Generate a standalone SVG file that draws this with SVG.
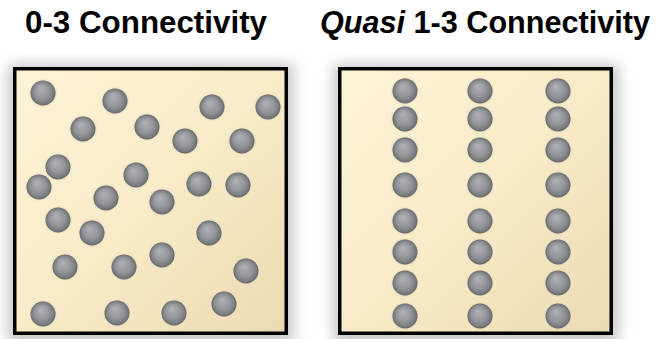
<svg xmlns="http://www.w3.org/2000/svg" xmlns:xlink="http://www.w3.org/1999/xlink" width="657" height="339" viewBox="0 0 657 339">
<style>
.title{font-family:"Liberation Sans",Arial,sans-serif;font-weight:bold;font-size:31px;fill:#000;}
.box{fill:url(#boxfill);stroke:#000;stroke-width:3.5;}
</style>
<defs>
<linearGradient id="boxfill" x1="0" y1="0" x2="1" y2="1">
<stop offset="0" stop-color="#FDF3D6"/>
<stop offset="0.5" stop-color="#F8EBC8"/>
<stop offset="1" stop-color="#EBDAB1"/>
</linearGradient>
<radialGradient id="ball" cx="0.5" cy="0.5" r="0.5" fx="0.4" fy="0.32">
<stop offset="0" stop-color="#B2B3B8"/>
<stop offset="0.6" stop-color="#949599"/>
<stop offset="0.88" stop-color="#7A7B7E"/>
<stop offset="1" stop-color="#646466"/>
</radialGradient>
<radialGradient id="halo" cx="0.5" cy="0.5" r="0.5">
<stop offset="0.72" stop-color="#CFC39F" stop-opacity="0.55"/>
<stop offset="1" stop-color="#FFF8E0" stop-opacity="0"/>
</radialGradient>
<filter id="shadow" x="-20%" y="-20%" width="140%" height="140%">
<feGaussianBlur stdDeviation="7"/>
</filter>
<g id="sph">
<circle r="16" fill="url(#halo)"/>
<circle r="12.5" fill="url(#ball)"/>
</g>
</defs>
<rect width="657" height="339" fill="#fff"/>
<text class="title" x="146" y="33" text-anchor="middle" textLength="242" lengthAdjust="spacingAndGlyphs">0-3 Connectivity</text>
<text class="title" x="485" y="33" text-anchor="middle" textLength="330" lengthAdjust="spacingAndGlyphs"><tspan font-style="italic">Quasi</tspan> 1-3 Connectivity</text>
<g id="left-panel">
<rect x="8" y="64" width="286" height="280" fill="#9a9a9a" opacity="0.55" filter="url(#shadow)"/>
<rect class="box" x="14.75" y="68.75" width="271.5" height="264.5"/>
<g id="left-particles">
<use xlink:href="#sph" x="43" y="93"/>
<use xlink:href="#sph" x="115" y="101"/>
<use xlink:href="#sph" x="212" y="107"/>
<use xlink:href="#sph" x="268" y="107"/>
<use xlink:href="#sph" x="83" y="129"/>
<use xlink:href="#sph" x="147" y="127"/>
<use xlink:href="#sph" x="185" y="141"/>
<use xlink:href="#sph" x="242" y="141"/>
<use xlink:href="#sph" x="58" y="167"/>
<use xlink:href="#sph" x="39" y="187"/>
<use xlink:href="#sph" x="136" y="175"/>
<use xlink:href="#sph" x="199" y="184"/>
<use xlink:href="#sph" x="238" y="185"/>
<use xlink:href="#sph" x="106" y="198"/>
<use xlink:href="#sph" x="162" y="202"/>
<use xlink:href="#sph" x="58" y="220"/>
<use xlink:href="#sph" x="92" y="233"/>
<use xlink:href="#sph" x="209" y="233"/>
<use xlink:href="#sph" x="65" y="267"/>
<use xlink:href="#sph" x="124" y="267"/>
<use xlink:href="#sph" x="162" y="255"/>
<use xlink:href="#sph" x="246" y="271"/>
<use xlink:href="#sph" x="43" y="314"/>
<use xlink:href="#sph" x="117" y="313"/>
<use xlink:href="#sph" x="174" y="313"/>
<use xlink:href="#sph" x="224" y="304"/>
</g>
</g>
<g id="right-panel">
<rect x="333" y="64" width="286" height="280" fill="#9a9a9a" opacity="0.55" filter="url(#shadow)"/>
<rect class="box" x="339.75" y="68.75" width="271.5" height="264.5"/>
<g id="right-particles">
<use xlink:href="#sph" x="405" y="91"/><use xlink:href="#sph" x="480" y="91"/><use xlink:href="#sph" x="558" y="91"/>
<use xlink:href="#sph" x="405" y="119"/><use xlink:href="#sph" x="480" y="119"/><use xlink:href="#sph" x="558" y="119"/>
<use xlink:href="#sph" x="405" y="150"/><use xlink:href="#sph" x="480" y="150"/><use xlink:href="#sph" x="558" y="150"/>
<use xlink:href="#sph" x="405" y="185"/><use xlink:href="#sph" x="480" y="185"/><use xlink:href="#sph" x="558" y="185"/>
<use xlink:href="#sph" x="405" y="221"/><use xlink:href="#sph" x="480" y="221"/><use xlink:href="#sph" x="558" y="221"/>
<use xlink:href="#sph" x="405" y="252"/><use xlink:href="#sph" x="480" y="252"/><use xlink:href="#sph" x="558" y="252"/>
<use xlink:href="#sph" x="405" y="283"/><use xlink:href="#sph" x="480" y="283"/><use xlink:href="#sph" x="558" y="283"/>
<use xlink:href="#sph" x="405" y="316"/><use xlink:href="#sph" x="480" y="316"/><use xlink:href="#sph" x="558" y="316"/>
</g>
</g>
</svg>
